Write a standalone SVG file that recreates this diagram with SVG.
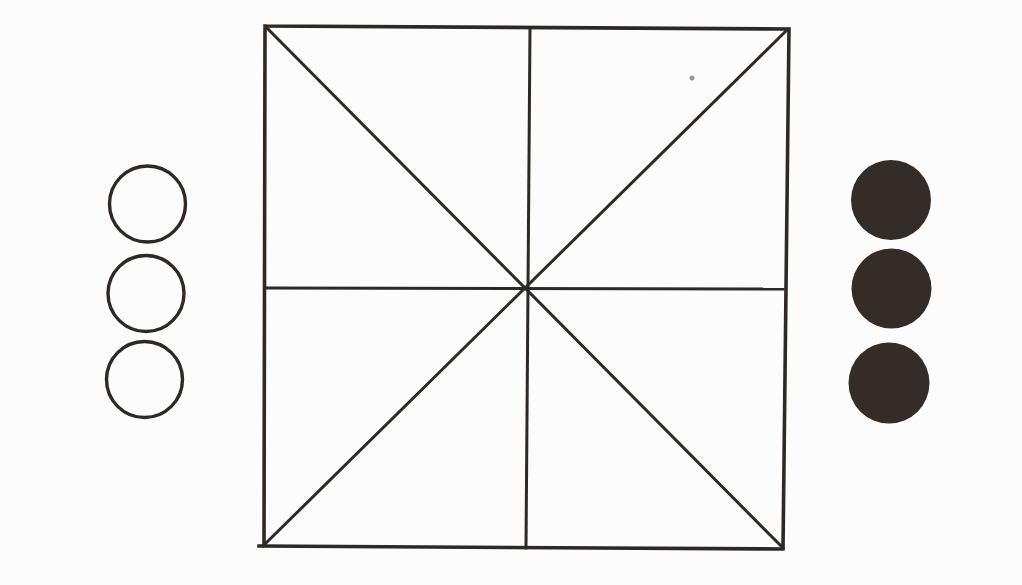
<svg xmlns="http://www.w3.org/2000/svg" width="1022" height="585" viewBox="0 0 1022 585">
<style>
.ln{stroke:#2f2925;stroke-width:3;stroke-linecap:square;fill:none}
.fr{stroke:#2f2925;stroke-width:3.6;stroke-linecap:square;stroke-linejoin:miter;fill:none}
.open{fill:none;stroke:#2f2925;stroke-width:3.4}
.full{fill:#342c27;stroke:none}
</style>
<rect x="0" y="0" width="1022" height="585" fill="#fdfcfd"/>
<g id="board">
<path class="fr" d="M265,26 L789,29 L783,549 L259,546 M265,26 L264,546"/>
</g>
<g id="connectors">
<line class="ln" x1="266" y1="27" x2="783" y2="548"/>
<line class="ln" x1="788" y1="29" x2="263" y2="546"/>
<line class="ln" x1="266" y1="288" x2="783" y2="289"/>
<line class="ln" x1="530" y1="28" x2="526" y2="548"/>
</g>
<g id="open-stones">
<circle id="open1" class="open" cx="147.5" cy="204" r="38"/>
<circle id="open2" class="open" cx="146" cy="293.5" r="38"/>
<circle id="open3" class="open" cx="144.5" cy="379.5" r="38"/>
</g>
<g id="filled-stones">
<circle id="full1" class="full" cx="891" cy="200" r="40"/>
<circle id="full2" class="full" cx="891.5" cy="288.5" r="40"/>
<circle id="full3" class="full" cx="889" cy="383" r="40.5"/>
</g>
<circle cx="692" cy="78" r="2.5" fill="#9a9693"/>
</svg>
